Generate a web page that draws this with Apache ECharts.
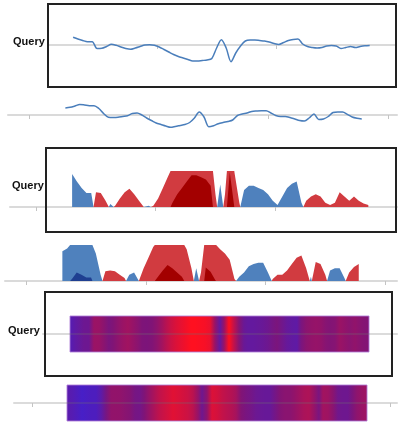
<!DOCTYPE html>
<html>
<head>
<meta charset="utf-8">
<script src="https://cdn.jsdelivr.net/npm/echarts@6/dist/echarts.min.js"></script>
<style>
  html, body { margin: 0; padding: 0; background: #fff; }
  #chart { width: 398px; height: 425px; }
</style>
</head>
<body>
<div id="chart"></div>
<script>
// samples every 4 time steps, starting at t = 30
const T_START = 30
const T_STEP = 4

// query series (deviation from baseline)
const query = [
  7.8, 6, 4.5, 3.3, 3.3, -3.5, -3.3, -1.5, 0.7, -0.3,
  -2, -3.5, -4.3, -3, -1.5, 0, 0.3, -0.3, -2, -4.5,
  -7, -9.5, -11.5, -13, -14.5, -16, -16, -15.5, -15, -13.5,
  -3, 5.3, -3, -16.7, -8, -1, 4, 5, 5, 4.5,
  4, 3, 1.5, 0.5, 2.5, 4.5, 5.5, 6, 1, -1.5,
  -2.5, -3, -2.5, -1, -0.5, -1, -3.5, -2.5, -1.5, -2.5,
  -1.5, -0.8, -0.5
]

// matched candidate series
const candidate = [
  7, 7.7, 9, 10.5, 10, 9.3, 9.3, 6.5, 1.5, -2.3,
  -2.5, -2.3, -1.5, -0.7, 1.5, 2, 0, -3, -5.5, -8,
  -9.5, -11, -12.3, -11.5, -10.5, -9.5, -7.5, -3, 3, -2,
  -11.7, -10.7, -8.7, -7.5, -6.5, -5, -0.5, 1, 2, 3.5,
  4, 4.3, 4.3, 2, -0.5, -1.5, -1.5, -2.5, -4, -5.5,
  -6, -3, 1, -4.5, -4, -1.5, 2.5, 3, 3, 0.7,
  -2, -3.3, -4
]

const times = query.map((v, i) => T_START + i * T_STEP)

// tick positions (time) shown on each panel's baseline
const ticksQueryLine = [100, 200]
const ticksCandLine = [0, 100, 200, 300]
const ticksQueryHorizon = [0, 100, 200]
const ticksCandHorizon = [0, 100, 200, 300]
const ticksCandStrip = [0, 300]

const labelText = 'Query'
const BAND = 8.5

const lineColor = '#4a7ebb'
const bandColors = { pos1: '#4f81bd', pos2: '#1f3f91', neg1: '#d13b40', neg2: '#a30000' }
const stripColors = ['#ff1020', '#7e1478', '#2a24f0']

const pairs = (vals) => vals.map((v, i) => [times[i], v])

const baseAxis = (gridIndex, min, max, ticks, onZero, z) => ({
  type: 'value',
  gridIndex,
  min,
  max,
  z: z || 0,
  axisLine: { onZero, lineStyle: { color: z ? 'rgba(110,110,110,0.25)' : '#dadada', width: 2 } },
  axisTick: {
    show: ticks.length > 0,
    customValues: ticks,
    length: 4,
    lineStyle: { color: '#c4c4c4', width: 1 }
  },
  axisLabel: { show: false },
  splitLine: { show: false }
})

const hiddenY = (gridIndex, min, max, inverse) => ({
  type: 'value', gridIndex, min, max, inverse: !!inverse, show: false
})

const stripGrid = (left, top, width) => ({
  left, top, width, height: 36, z: 10,
  show: true, backgroundColor: 'transparent',
  borderColor: 'rgba(175,125,215,0.85)', borderWidth: 1
})

const grid = [
  { left: 48, top: 4, width: 348, height: 83 },     // 0 query line
  { left: 8, top: 98, width: 389, height: 34 },     // 1 candidate line
  { left: 10, top: 171, width: 387, height: 36 },   // 2 query horizon
  { left: 5, top: 245, width: 392, height: 36 },    // 3 candidate horizon
  stripGrid(70, 316, 299),                          // 4 query strip
  stripGrid(67, 385, 300),                          // 5 candidate strip
  { left: 43, top: 333, width: 354, height: 1 },    // 6 query strip baseline
  { left: 14, top: 402, width: 383, height: 1 }     // 7 candidate strip baseline
]

const xAxis = [
  baseAxis(0, 9, 300, ticksQueryLine, true),
  baseAxis(1, -18, 307.5, ticksCandLine, true),
  baseAxis(2, -22, 302, ticksQueryHorizon, false),
  baseAxis(3, -18, 310, ticksCandHorizon, false),
  hiddenY(4, times[0], times[times.length - 1]),
  hiddenY(5, times[0], times[times.length - 1]),
  baseAxis(6, 0, 300, [], false, 15),
  baseAxis(7, -15, 305.5, ticksCandStrip, false, 15)
]

const yAxis = [
  hiddenY(0, -42, 41),
  hiddenY(1, -17, 17),
  // query horizon bands: 2..5
  hiddenY(2, 0, BAND), hiddenY(2, BAND, 2 * BAND),
  hiddenY(2, -BAND, 0, true), hiddenY(2, -2 * BAND, -BAND, true),
  // candidate horizon bands: 6..9
  hiddenY(3, 0, BAND), hiddenY(3, BAND, 2 * BAND),
  hiddenY(3, -BAND, 0, true), hiddenY(3, -2 * BAND, -BAND, true),
  hiddenY(4, 0, 1),
  hiddenY(5, 0, 1),
  hiddenY(6, 0, 1),
  hiddenY(7, 0, 1)
]

const lineSeries = (xi, vals) => ({
  type: 'line',
  xAxisIndex: xi,
  yAxisIndex: xi,
  data: pairs(vals),
  symbol: 'none',
  smooth: 0.3,
  clip: false,
  lineStyle: { color: lineColor, width: 1.5 }
})

const bandSeries = (xi, y0, vals) => {
  const one = (yi, color, origin) => ({
    type: 'line',
    xAxisIndex: xi,
    yAxisIndex: yi,
    data: pairs(vals),
    symbol: 'none',
    clip: true,
    silent: true,
    lineStyle: { opacity: 0, width: 0 },
    areaStyle: { color, opacity: 1, origin }
  })
  return [
    one(y0, bandColors.pos1, 'start'),
    one(y0 + 2, bandColors.neg1, 'end'),
    one(y0 + 1, bandColors.pos2, 'start'),
    one(y0 + 3, bandColors.neg2, 'end')
  ]
}

// colour strip: each sample blends into the next, colours come from the visualMap
const stripSeries = (xi, yi, vals) => ({
  type: 'custom',
  xAxisIndex: xi,
  yAxisIndex: yi,
  data: pairs(vals),
  silent: true,
  renderItem: (params, api) => {
    const i = params.dataIndexInside
    if (i >= params.dataInsideLength - 1) {
      return
    }
    const cs = params.coordSys
    const xa = Math.round(api.coord([api.value(0, i), 0])[0])
    const xb = Math.round(api.coord([api.value(0, i + 1), 0])[0])
    return {
      type: 'rect',
      shape: { x: xa, y: cs.y, width: xb - xa, height: cs.height },
      style: {
        fill: new echarts.graphic.LinearGradient(0, 0, 1, 0, [
          { offset: 0, color: api.visual('color', i) },
          { offset: 1, color: api.visual('color', i + 1) }
        ])
      }
    }
  }
})

const series = [
  lineSeries(0, query),
  lineSeries(1, candidate),
  ...bandSeries(2, 2, query),
  ...bandSeries(3, 6, candidate),
  stripSeries(4, 10, query),
  stripSeries(5, 11, candidate)
]

const box = (x, y, w, h) => ({
  type: 'rect',
  z: 50,
  shape: { x, y, width: w, height: h },
  style: { fill: 'none', stroke: '#222', lineWidth: 2 }
})

const label = (x, y) => ({
  type: 'text',
  z: 50,
  x,
  y,
  style: {
    text: labelText,
    font: 'bold 11px "Liberation Sans", Arial, sans-serif',
    fill: '#111',
    verticalAlign: 'middle'
  }
})

const chart = echarts.init(document.getElementById('chart'))
chart.setOption({
  animation: false,
  grid,
  xAxis,
  yAxis,
  visualMap: [
    { type: 'continuous', show: false, seriesIndex: 10, dimension: 1, min: -16, max: 16, inRange: { color: stripColors } },
    { type: 'continuous', show: false, seriesIndex: 11, dimension: 1, min: -16, max: 16, inRange: { color: stripColors } }
  ],
  series,
  graphic: [
    box(48, 4, 348, 83),
    box(46, 148, 350, 84),
    box(45, 292, 347, 84),
    label(13, 42),
    label(12, 186),
    label(8, 331)
  ]
})
</script>
</body>
</html>
